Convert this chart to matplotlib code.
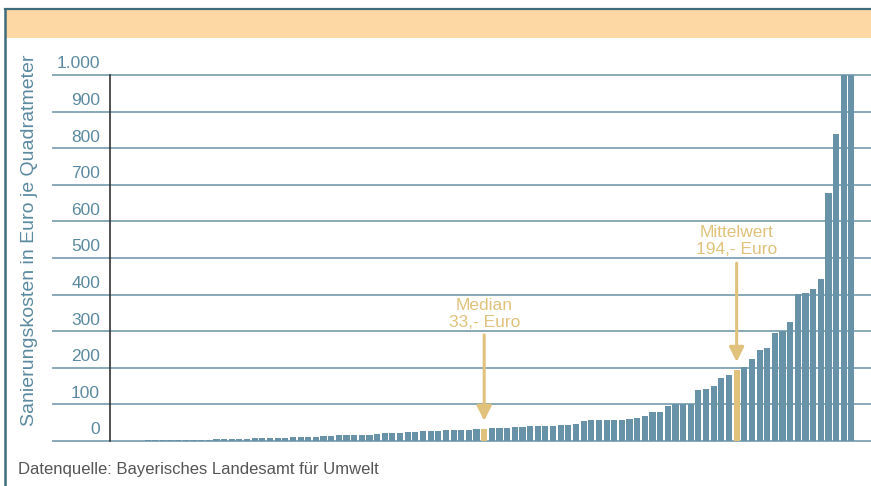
import matplotlib
matplotlib.use("Agg")
import matplotlib.pyplot as plt
from matplotlib.patches import Rectangle
from matplotlib.lines import Line2D

plt.rcParams["font.family"] = ["Liberation Sans", "DejaVu Sans"]

# ── Daten (sortierte Sanierungskosten je Fall, Euro/m²) ───────────────────────
kosten = [
    0.5, 0.8, 1, 1.2, 1.5,
    2, 2, 2.5, 3, 3, 3.5,
    4, 4, 5, 5, 5.5, 6,
    6.5, 7, 7.5, 8, 8.5,
    9, 10, 11, 12, 12, 13, 15, 16, 16, 16, 16, 16, 18, 21, 21, 22, 24, 25, 26, 27,
    28, 29, 30, 31, 31, 32, 33, 35, 35.5, 36, 38, 39, 40, 40, 41, 42, 44, 45, 46,
    55, 57, 57, 57, 57, 57, 59, 64, 69, 80, 80, 96, 101, 101, 101, 139, 142, 150, 173, 180,
    194,
    201, 224, 250, 253, 294, 300, 325, 401, 404, 414, 443, 677, 838, 1000, 1000,
]
median_idx, median_txt = 48, "Median\n33,- Euro"
mittel_idx, mittel_txt = 81, "Mittelwert\n194,- Euro"
yticks = list(range(0, 1001, 100))
ytick_labels = ["0", "100", "200", "300", "400", "500", "600", "700", "800", "900", "1.000"]

BAR, GOLD, GRID, TXT = "#6892A7", "#E0C27C", "#7FA2B3", "#5B8AA0"
HEAD, FRAME, SRC = "#FDD8A5", "#3F6C7B", "#555555"

W, H = 871, 486
fig = plt.figure(figsize=(W / 100, H / 100), dpi=100)
fig.patch.set_facecolor("white")

# Rahmen + Kopfband
fig.patches.append(Rectangle((5 / W, 1 - 38 / H), 1, 29 / H, transform=fig.transFigure,
                             facecolor=HEAD, edgecolor="none", zorder=0))
fig.lines.append(Line2D([5 / W, 1], [1 - 9 / H] * 2, transform=fig.transFigure, color=FRAME, lw=1.6))
fig.lines.append(Line2D([5 / W] * 2, [0, 1 - 9 / H], transform=fig.transFigure, color=FRAME, lw=1.8))

# Achse: Pixel 53..871 horizontal, y=0 bei 441, y=1000 bei 75
x0, pitch = 117, 7.65
ax = fig.add_axes([53 / W, (H - 441) / H, (W - 53) / W, 366 / H])
ax.set_xlim((53 - x0) / pitch, (W - x0) / pitch)
ax.set_ylim(0, 1000)
ax.axis("off")

for t in yticks:
    ax.axhline(t, color=GRID, lw=1.3, zorder=1, clip_on=False)
ax.plot([(110 - x0) / pitch] * 2, [0, 1000], color="#333333", lw=1.2, zorder=3, clip_on=False)

farben = [GOLD if i in (median_idx, mittel_idx) else BAR for i in range(len(kosten))]
ax.bar(range(len(kosten)), kosten, width=0.8, color=farben, zorder=2)

for t, lab in zip(yticks, ytick_labels):
    ax.text((100 - x0) / pitch, t + 10, lab, ha="right", va="bottom", fontsize=12.5, color=TXT)

fig.text(30 / W, 1 - 240 / H, "Sanierungskosten in Euro je Quadratmeter", rotation=90,
         ha="center", va="center", fontsize=14, color=TXT)

# Anmerkungen
for idx, txt, y_txt, y_start, y_tip in [(median_idx, median_txt, 303, 290, 55),
                                        (mittel_idx, mittel_txt, 503, 486, 216)]:
    ax.text(idx, y_txt, txt, ha="center", va="bottom", fontsize=12.5, color=GOLD, linespacing=1.15)
    ax.annotate("", xy=(idx, y_tip), xytext=(idx, y_start),
                arrowprops=dict(arrowstyle="-|>", color=GOLD, lw=2.2, mutation_scale=22,
                                shrinkA=0, shrinkB=0))

fig.text(18 / W, 1 - 469 / H, "Datenquelle: Bayerisches Landesamt für Umwelt",
         ha="left", va="center", fontsize=12, color=SRC)

fig.savefig("out.png", dpi=100, facecolor="white")
